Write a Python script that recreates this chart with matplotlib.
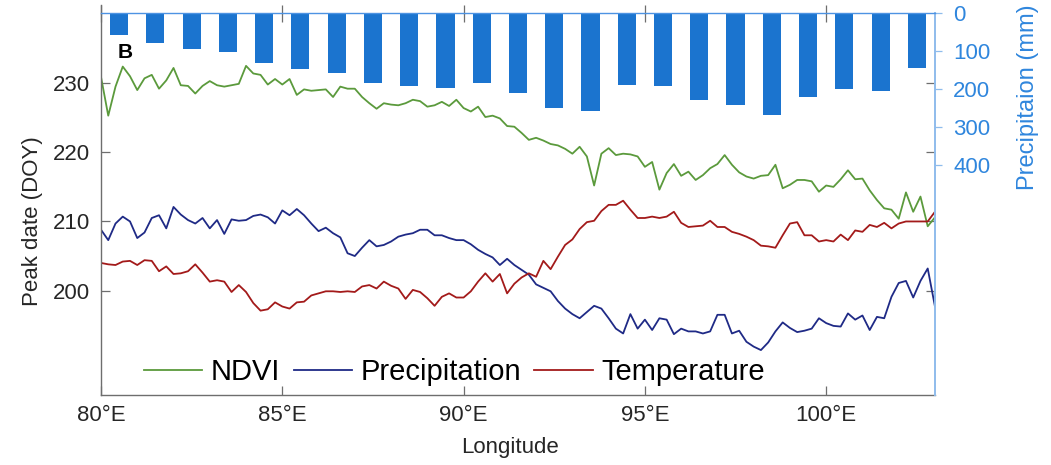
"""
Peak date along longitude (NDVI / precipitation / temperature) with
mean precipitation bars hanging from the top axis.

Output:
    out.png
"""
from __future__ import annotations

import matplotlib as mpl
import matplotlib.pyplot as plt
import numpy as np

mpl.use("Agg")

# ---- data -------------------------------------------------------------
# line series sampled every 0.2 deg from 80E to 103E (116 points)
line_lon = np.linspace(80.0, 103.0, 116)

ndvi_doy = [
    230.9, 225.3, 229.5, 232.4, 231.0, 229.0, 230.7, 231.2, 229.2, 230.4,
    232.2, 229.7, 229.6, 228.5, 229.6, 230.3, 229.7, 229.5, 229.7, 229.9,
    232.5, 231.4, 231.2, 229.8, 230.6, 229.8, 230.6, 228.3, 229.1, 228.9,
    229.0, 229.1, 228.0, 229.5, 229.2, 229.2, 228.0, 227.1, 226.3, 227.1,
    226.9, 226.8, 227.1, 227.6, 227.4, 226.6, 226.8, 227.3, 226.7, 227.6,
    226.4, 225.9, 226.6, 225.1, 225.3, 224.9, 223.8, 223.7, 222.8, 221.8,
    222.1, 221.7, 221.2, 221.0, 220.5, 219.8, 220.8, 219.4, 215.2, 219.8,
    220.6, 219.6, 219.8, 219.7, 219.4, 217.9, 218.6, 214.6, 217.0, 218.3,
    216.6, 217.2, 216.0, 216.7, 217.7, 218.3, 219.6, 218.2, 217.1, 216.5,
    216.2, 216.6, 216.7, 218.2, 214.8, 215.3, 216.0, 216.0, 215.8, 214.3,
    215.2, 215.0, 216.1, 217.4, 216.1, 216.2, 214.5, 213.1, 211.9, 211.7,
    210.4, 214.2, 211.4, 213.6, 209.3, 210.6,
]

precip_doy = [
    208.8, 207.3, 209.7, 210.7, 210.0, 207.6, 208.4, 210.5, 210.9, 209.0,
    212.1, 211.0, 210.2, 209.7, 210.5, 209.0, 210.2, 208.2, 210.3, 210.1,
    210.2, 210.8, 211.0, 210.6, 209.7, 211.6, 210.9, 211.8, 210.9, 209.7,
    208.6, 209.1, 208.3, 207.7, 205.4, 205.0, 206.2, 207.3, 206.4, 206.6,
    207.1, 207.8, 208.1, 208.3, 208.8, 208.8, 208.0, 208.0, 207.6, 207.3,
    207.3, 206.7, 205.9, 205.3, 204.8, 203.7, 204.6, 203.7, 203.0, 202.3,
    200.9, 200.4, 199.9, 198.5, 197.4, 196.6, 196.0, 196.9, 197.8, 197.4,
    196.0, 194.5, 193.8, 196.6, 194.5, 195.8, 194.3, 196.0, 195.8, 193.7,
    194.5, 194.1, 194.1, 193.8, 194.1, 196.5, 196.5, 193.8, 194.2, 192.6,
    191.9, 191.4, 192.5, 194.1, 195.4, 194.6, 194.0, 194.2, 194.5, 196.0,
    195.3, 194.9, 194.8, 196.7, 195.8, 196.4, 194.3, 196.2, 196.0, 199.1,
    201.1, 201.4, 199.0, 201.4, 203.2, 197.7,
]

temp_doy = [
    204.0, 203.8, 203.7, 204.2, 204.3, 203.7, 204.4, 204.3, 202.8, 203.5,
    202.4, 202.5, 202.8, 203.8, 202.6, 201.3, 201.5, 201.3, 199.8, 200.8,
    199.8, 198.2, 197.1, 197.3, 198.3, 197.7, 197.4, 198.3, 198.4, 199.3,
    199.6, 199.9, 199.9, 199.8, 199.9, 199.8, 200.6, 200.8, 200.3, 201.3,
    200.7, 200.3, 198.8, 200.1, 199.8, 198.9, 197.8, 199.1, 199.6, 199.0,
    199.0, 199.9, 201.3, 202.5, 201.3, 202.4, 199.6, 201.0, 201.9, 202.5,
    202.0, 204.3, 203.1, 204.9, 206.6, 207.4, 208.9, 209.9, 210.1, 211.5,
    212.4, 212.4, 213.0, 211.7, 210.5, 210.5, 210.7, 210.5, 210.7, 211.4,
    209.8, 209.2, 209.3, 209.4, 210.1, 209.2, 209.2, 208.5, 208.2, 207.8,
    207.3, 206.5, 206.4, 206.2, 208.0, 209.7, 209.9, 208.0, 208.0, 207.1,
    207.3, 207.1, 208.1, 207.3, 208.7, 208.5, 209.5, 209.2, 209.8, 209.0,
    209.7, 210.0, 210.0, 210.0, 210.0, 211.4,
]

# 1-degree bins of precipitation (mm)
bar_lon = [80.5, 81.5, 82.5, 83.5, 84.5, 85.5, 86.5, 87.5, 88.5, 89.5,
           90.5, 91.5, 92.5, 93.5, 94.5, 95.5, 96.5, 97.5, 98.5, 99.5,
           100.5, 101.5, 102.5]
bar_precip = [57, 79, 95, 101, 132, 147, 158, 183, 191, 196,
              184, 209, 250, 256, 189, 191, 228, 241, 267, 220,
              200, 204, 145]

x_ticks = [80, 85, 90, 95, 100]
x_ticklabels = ["80°E", "85°E", "90°E", "95°E", "100°E"]
doy_ticks = [200, 210, 220, 230]
mm_ticks = [0, 100, 200, 300, 400]

# ---- style ------------------------------------------------------------
C_NDVI = "#5b9a3c"
C_PRE = "#1f2a86"
C_TMP = "#a31a1a"
C_BAR = "#1b74cf"
C_RAX = "#2f86dd"
C_RSPINE = "#8fbcec"
C_TOP = "#4d93e3"
C_AX = "#6e6e6e"
C_TXT = "#262626"

FS_TICK = 16
FS_LEG = 21
LW = 1.3

# axes boxes in figure fractions (figure 1051 x 465 px)
L, B, W = 0.0961, 0.1505, 0.7935
H_MAIN = 0.8387
H_BAR = 0.8209


def main() -> None:
    mpl.rcParams["font.family"] = ["Liberation Sans", "DejaVu Sans"]

    fig = plt.figure(figsize=(10.51, 4.65), dpi=100)
    ax = fig.add_axes([L, B, W, H_MAIN])
    ax2 = fig.add_axes([L, B, W, H_BAR])
    ax2.patch.set_visible(False)

    # lines
    ax.plot(line_lon, ndvi_doy, color=C_NDVI, lw=LW, label="NDVI")
    ax.plot(line_lon, precip_doy, color=C_PRE, lw=LW, label="Precipitation")
    ax.plot(line_lon, temp_doy, color=C_TMP, lw=LW, label="Temperature")

    ax.set_xlim(80, 103)
    ax.set_ylim(184.9, 241.3)
    ax.set_xticks(x_ticks)
    ax.set_xticklabels(x_ticklabels)
    ax.set_yticks(doy_ticks)
    ax.tick_params(axis="both", direction="in", length=6.5, width=0.9,
                   color=C_AX, labelcolor=C_TXT, labelsize=FS_TICK)
    ax.tick_params(axis="x", top=True, pad=7)
    ax.tick_params(axis="y", right=True, pad=8)
    for side in ("top", "right"):
        ax.spines[side].set_visible(False)
    for side in ("left", "bottom"):
        ax.spines[side].set_color(C_AX)
        ax.spines[side].set_linewidth(1.0)

    ax.set_xlabel("Longitude", fontsize=FS_TICK, color=C_TXT)
    ax.xaxis.set_label_coords(0.49, -0.108)
    ax.set_ylabel("Peak date (DOY)", fontsize=FS_TICK, color=C_TXT)
    ax.yaxis.set_label_coords(-0.069, 0.446)

    ax.text(0.029, 0.879, "B", transform=ax.transAxes, fontsize=15,
            fontweight="bold", color="black", ha="center", va="center")

    ax.legend(loc="center", bbox_to_anchor=(0.424, 0.059), ncol=3,
              frameon=False, fontsize=FS_LEG, handlelength=2.0,
              handletextpad=0.3, columnspacing=0.45, borderaxespad=0.0)

    # precipitation bars hanging from the top
    ax2.bar(bar_lon, bar_precip, width=0.5, color=C_BAR, linewidth=0)
    ax2.set_xlim(80, 103)
    ax2.set_ylim(1005, 0)
    ax2.set_xticks(x_ticks)
    ax2.tick_params(axis="x", bottom=False, top=True, labelbottom=False,
                    direction="in", length=6.5, width=0.9, color=C_AX)
    ax2.yaxis.tick_right()
    ax2.yaxis.set_label_position("right")
    ax2.set_yticks(mm_ticks)
    ax2.tick_params(axis="y", direction="out", length=5, width=0.9,
                    color=C_RSPINE, labelcolor=C_RAX, labelsize=FS_TICK,
                    pad=8)
    ax2.spines["left"].set_visible(False)
    ax2.spines["bottom"].set_visible(False)
    ax2.spines["top"].set_color(C_TOP)
    ax2.spines["top"].set_linewidth(1.0)
    ax2.spines["right"].set_color(C_RSPINE)
    ax2.spines["right"].set_linewidth(1.4)
    ax2.set_ylabel("Precipitaion (mm)", fontsize=17, color=C_RAX,
                   rotation=90)
    ax2.yaxis.set_label_coords(1.098, 0.78)

    fig.savefig("out.png", dpi=100)
    plt.close(fig)


if __name__ == "__main__":
    main()
